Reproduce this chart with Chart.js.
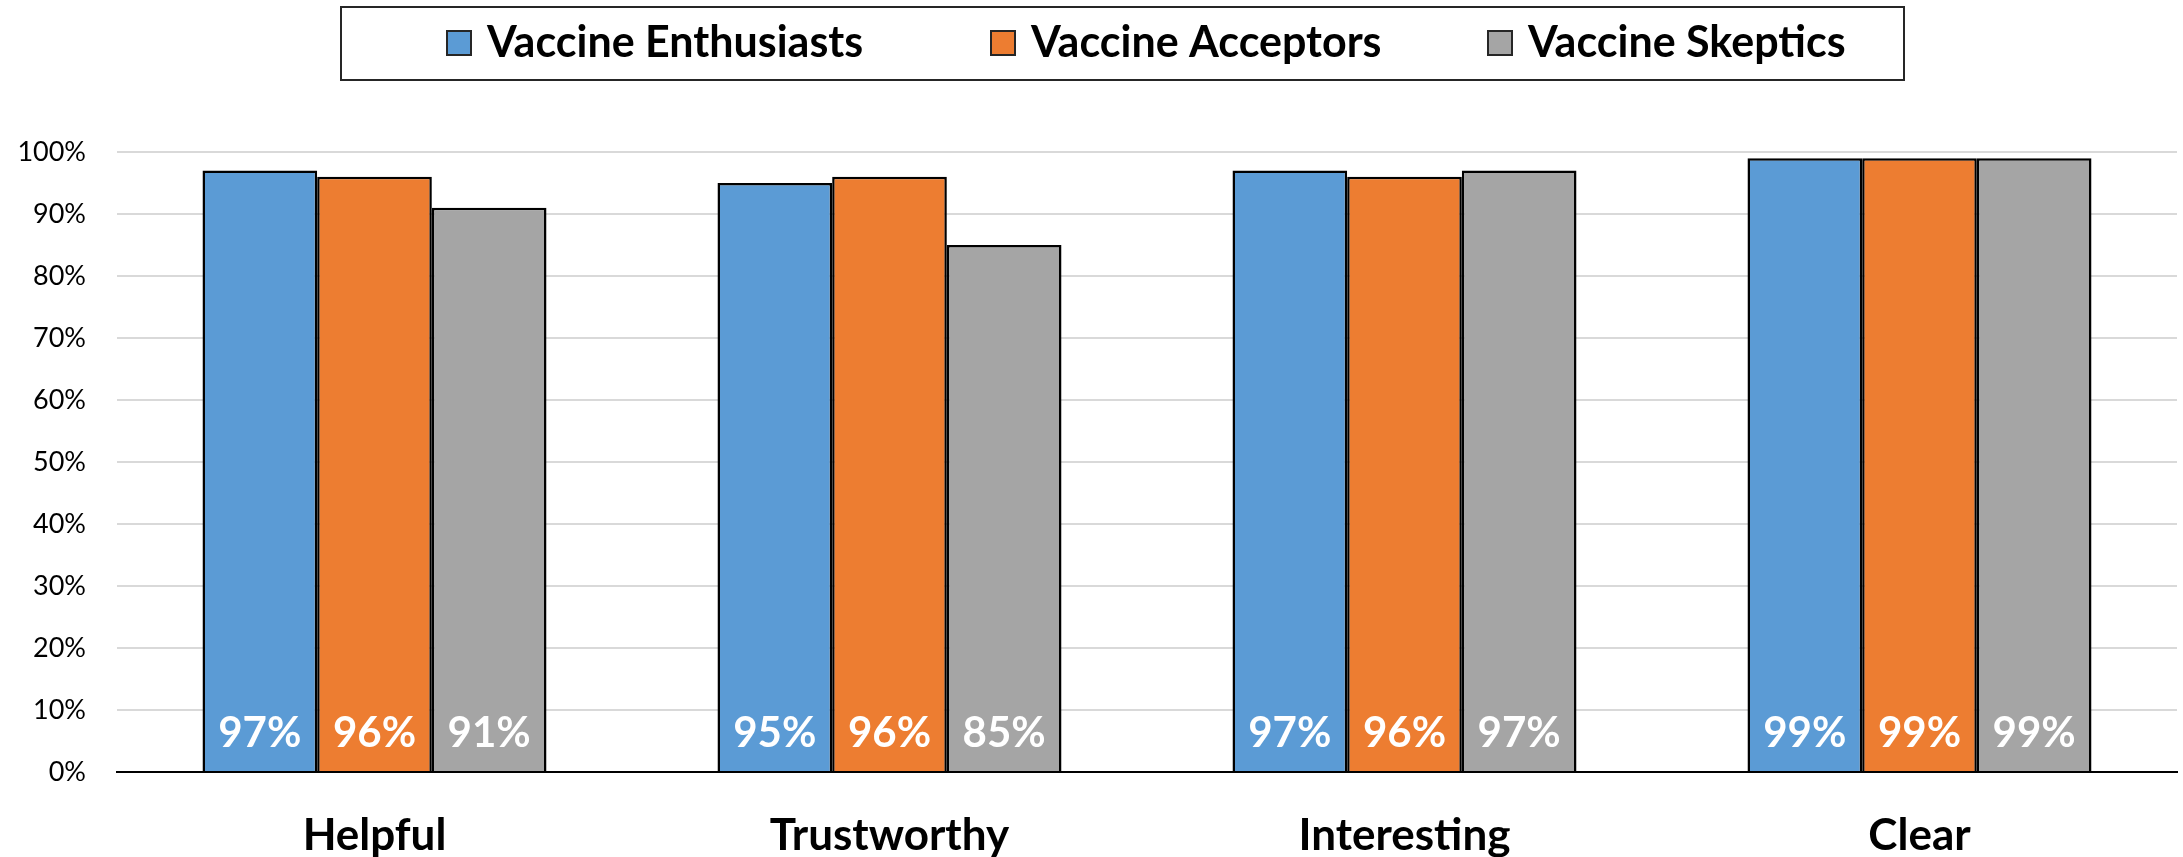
<!DOCTYPE html>
<html>
<head>
<meta charset="utf-8">
<title>Vaccine message ratings</title>
<script src="https://cdn.jsdelivr.net/npm/chart.js@4/dist/chart.umd.min.js"></script>
<style>
  html, body { margin: 0; padding: 0; background: #ffffff; }
  #wrap { position: relative; width: 2183px; height: 857px; }
  canvas { display: block; }
</style>
</head>
<body>
<div id="wrap"><canvas id="chart" width="2183" height="857"></canvas></div>
<script>
// Categories and series (percent of respondents)
const categories = ['Helpful', 'Trustworthy', 'Interesting', 'Clear'];
const enthusiasts = [97, 95, 97, 99];
const acceptors   = [96, 96, 96, 99];
const skeptics    = [91, 85, 97, 99];
const seriesNames = ['Vaccine Enthusiasts', 'Vaccine Acceptors', 'Vaccine Skeptics'];
const yTicks = [0, 10, 20, 30, 40, 50, 60, 70, 80, 90, 100];

const FONT = 'Lato, "Open Sans", "DejaVu Sans", sans-serif';
const colors = ['#5B9BD5', '#ED7D31', '#A5A5A5'];

// White value labels near the foot of each bar
const valueLabels = {
  id: 'valueLabels',
  afterDatasetsDraw(chart) {
    const ctx = chart.ctx;
    const base = chart.scales.y.getPixelForValue(0);
    ctx.save();
    ctx.fillStyle = '#ffffff';
    ctx.font = 'bold 42px ' + FONT;
    ctx.textAlign = 'center';
    ctx.textBaseline = 'alphabetic';
    chart.data.datasets.forEach((ds, i) => {
      chart.getDatasetMeta(i).data.forEach((bar, j) => {
        ctx.fillText(ds.data[j] + '%', bar.x, base - 25);
      });
    });
    ctx.restore();
  }
};

// Framed legend across the top
const framedLegend = {
  id: 'framedLegend',
  afterDraw(chart, args, opts) {
    const ctx = chart.ctx;
    ctx.save();
    ctx.lineWidth = 2;
    ctx.strokeStyle = '#262626';
    ctx.strokeRect(opts.box[0], opts.box[1], opts.box[2], opts.box[3]);
    ctx.font = 'bold ' + opts.fontSize + 'px ' + FONT;
    ctx.textBaseline = 'alphabetic';
    ctx.textAlign = 'left';
    chart.data.datasets.forEach((ds, i) => {
      const x = opts.itemX[i];
      ctx.fillStyle = ds.backgroundColor;
      ctx.fillRect(x, opts.swatchY, opts.swatch, opts.swatch);
      ctx.strokeStyle = '#262626';
      ctx.lineWidth = 2;
      ctx.strokeRect(x, opts.swatchY, opts.swatch, opts.swatch);
      ctx.fillStyle = '#000000';
      ctx.fillText(ds.label, x + opts.swatch + 16, opts.baseline);
    });
    ctx.restore();
  }
};

const seriesValues = [enthusiasts, acceptors, skeptics];

new Chart(document.getElementById('chart'), {
  type: 'bar',
  data: {
    labels: categories,
    datasets: seriesNames.map((name, i) => ({
      label: name,
      data: seriesValues[i],
      backgroundColor: colors[i],
      borderColor: '#000000',
      borderWidth: 2.5,
      borderSkipped: 'bottom',
      barPercentage: 1.0,
      categoryPercentage: 0.668
    }))
  },
  options: {
    responsive: false,
    animation: false,
    devicePixelRatio: 1,
    layout: { padding: { left: 0, top: 152, right: 6, bottom: 0 } },
    plugins: {
      legend: { display: false },
      tooltip: { enabled: false },
      framedLegend: {
        box: [341, 7, 1563, 73],
        itemX: [447, 991, 1488],
        swatch: 24,
        swatchY: 31,
        baseline: 57,
        fontSize: 43
      }
    },
    scales: {
      x: {
        grid: { display: false, drawTicks: false },
        border: { display: true, color: '#000000', width: 2 },
        ticks: {
          color: '#000000',
          font: { family: FONT, size: 44, weight: 'bold' },
          padding: 37,
          maxRotation: 0
        },
        afterFit(scale) { scale.height = 85; }
      },
      y: {
        min: 0,
        max: 100,
        afterBuildTicks(scale) { scale.ticks = yTicks.map(v => ({ value: v })); },
        grid: {
          drawTicks: false,
          lineWidth: 2,
          color: (c) => (c.tick && c.tick.value === 0 ? '#000000' : '#D9D9D9')
        },
        border: { display: false },
        ticks: {
          color: '#000000',
          font: { family: FONT, size: 27 },
          padding: 31,
          callback: (v) => v + '%'
        },
        afterFit(scale) { scale.width = 117; }
      }
    }
  },
  plugins: [valueLabels, framedLegend]
});
</script>
</body>
</html>
